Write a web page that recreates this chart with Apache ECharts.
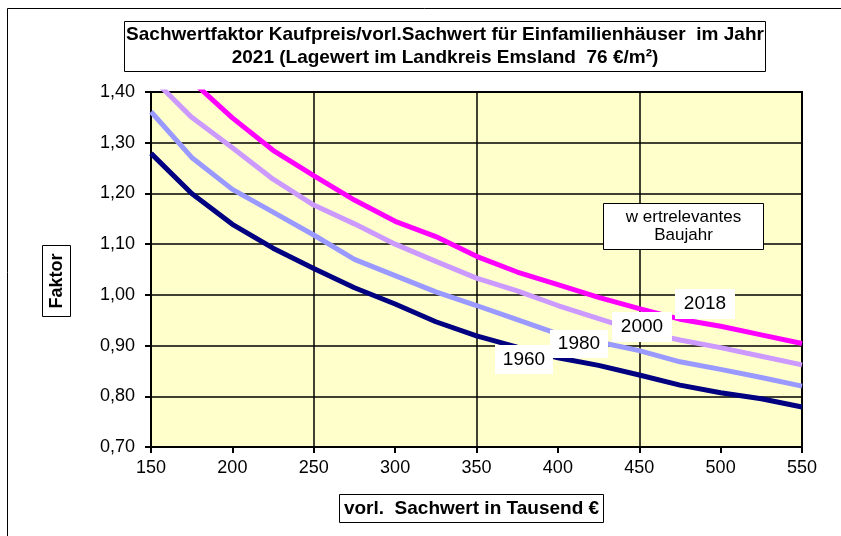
<!DOCTYPE html>
<html>
<head>
<meta charset="utf-8">
<script src="https://cdn.jsdelivr.net/npm/echarts@6/dist/echarts.min.js"></script>
<style>
  html, body { margin: 0; padding: 0; background: #fff; }
  #chart { width: 841px; height: 536px; }
</style>
</head>
<body>
<div id="chart"></div>
<script>
// vorl. Sachwert in Tausend €
var sachwert = [150, 175, 200, 225, 250, 275, 300, 325, 350, 375, 400, 425, 450, 475, 500, 525, 550];
// Faktor je wertrelevantem Baujahr
var bj1960 = [1.279, 1.200, 1.139, 1.092, 1.052, 1.014, 0.982, 0.947, 0.919, 0.897, 0.876, 0.861, 0.842, 0.822, 0.807, 0.795, 0.779];
var bj1980 = [1.361, 1.271, 1.208, 1.163, 1.118, 1.070, 1.038, 1.006, 0.979, 0.951, 0.923, 0.907, 0.890, 0.868, 0.853, 0.837, 0.820];
var bj2000 = [1.430, 1.350, 1.290, 1.228, 1.177, 1.140, 1.100, 1.066, 1.033, 1.008, 0.979, 0.953, 0.928, 0.911, 0.896, 0.879, 0.862];
var bj2018 = [null, 1.422, 1.349, 1.285, 1.235, 1.187, 1.145, 1.115, 1.076, 1.045, 1.020, 0.995, 0.973, 0.952, 0.938, 0.921, 0.904];

var baujahre = ['1960', '1980', '2000', '2018'];
var farben = ['#000080', '#9999FF', '#CC99FF', '#FF00FF'];
var reihen = [bj1960, bj1980, bj2000, bj2018];

var schrift = '"Liberation Sans", Arial, sans-serif';
var schmal = '"Liberation Sans Narrow", "Arial Narrow", "Liberation Sans", sans-serif';

function paare(werte) {
  return sachwert.map(function (x, i) { return [x, werte[i]]; });
}

// beschriftete Kaestchen
function kasten(x, y, w, h, zeilen, opts) {
  var el = [{
    type: 'rect', z: 100,
    shape: { x: x, y: y, width: w, height: h },
    style: { fill: '#fff', stroke: opts.rand ? '#000' : null, lineWidth: 1 }
  }];
  zeilen.forEach(function (t, i) {
    el.push({
      type: 'text', z: 101,
      x: x + w / 2,
      y: y + h / 2 + (i - (zeilen.length - 1) / 2) * opts.zeile,
      style: {
        text: t, fill: '#000', font: opts.font,
        textAlign: 'center', textVerticalAlign: 'middle'
      }
    });
  });
  return el;
}

var chart = echarts.init(document.getElementById('chart'));

var grafik = [{
  type: 'rect', z: 0,
  shape: { x: 7.5, y: 8.5, width: 900, height: 600 },
  style: { fill: null, stroke: '#000', lineWidth: 1 }
}];
grafik = grafik.concat(
  kasten(124.5, 21.5, 641, 50, ['Sachwertfaktor Kaufpreis/vorl.Sachwert für Einfamilienhäuser  im Jahr',
    '2021 (Lagewert im Landkreis Emsland  76 €/m²)'], { rand: true, zeile: 23, font: 'bold 19px ' + schmal }),
  kasten(339.5, 494.5, 264, 28, ['vorl.  Sachwert in Tausend €'], { rand: true, zeile: 0, font: 'bold 19px ' + schmal }),
  kasten(603.5, 203.5, 160, 46, ['w ertrelevantes', 'Baujahr'], { rand: true, zeile: 18, font: '17px ' + schrift }),
  kasten(675, 289, 60, 30, ['2018'], { zeile: 0, font: '19px ' + schrift }),
  kasten(612, 312, 60, 30, ['2000'], { zeile: 0, font: '19px ' + schrift }),
  kasten(550, 330, 58, 28, ['1980'], { zeile: 0, font: '19px ' + schrift }),
  kasten(495, 345, 58, 29, ['1960'], { zeile: 0, font: '19px ' + schrift })
);
grafik.push({
  type: 'rect', z: 100,
  shape: { x: 42.5, y: 245.5, width: 28, height: 71 },
  style: { fill: '#fff', stroke: '#000', lineWidth: 1 }
}, {
  type: 'text', z: 101, x: 57, y: 281, rotation: Math.PI / 2,
  style: { text: 'Faktor', fill: '#000', font: 'bold 18px ' + schrift, textAlign: 'center', textVerticalAlign: 'middle' }
});

var option = {
  animation: false,
  grid: {
    left: 151, top: 92, right: 39, bottom: 89,
    show: true, backgroundColor: '#FFFFCC', borderColor: '#000', borderWidth: 2
  },
  xAxis: [{
    type: 'value', min: 150, max: 550, interval: 50,
    axisLine: { show: true, lineStyle: { color: '#000', width: 2 } },
    axisTick: { show: true, length: 6, lineStyle: { color: '#000', width: 2 } },
    axisLabel: { color: '#000', fontSize: 18, fontFamily: schrift, margin: 12 },
    splitLine: { show: false }
  }, {
    type: 'value', min: 150, max: 550, interval: 100, position: 'bottom',
    axisLine: { show: false }, axisTick: { show: false }, axisLabel: { show: false },
    splitLine: { show: true, lineStyle: { color: '#000', width: 1.5 } }
  }],
  yAxis: {
    type: 'value', min: 0.7, max: 1.4, interval: 0.1,
    axisLine: { show: true, lineStyle: { color: '#000', width: 2 } },
    axisTick: { show: true, length: 6, lineStyle: { color: '#000', width: 2 } },
    axisLabel: {
      color: '#000', fontSize: 18, fontFamily: schrift, margin: 16,
      formatter: function (v) { return v.toFixed(2).replace('.', ','); }
    },
    splitLine: { show: true, lineStyle: { color: '#000', width: 1.5 } }
  },
  series: reihen.map(function (r, i) {
    return {
      name: baujahre[i], type: 'line', data: paare(r),
      showSymbol: false, clip: true, connectNulls: false,
      lineStyle: { color: farben[i], width: 5 }, z: 10 - i
    };
  }),
  graphic: grafik
};
chart.setOption(option);
</script>
</body>
</html>
